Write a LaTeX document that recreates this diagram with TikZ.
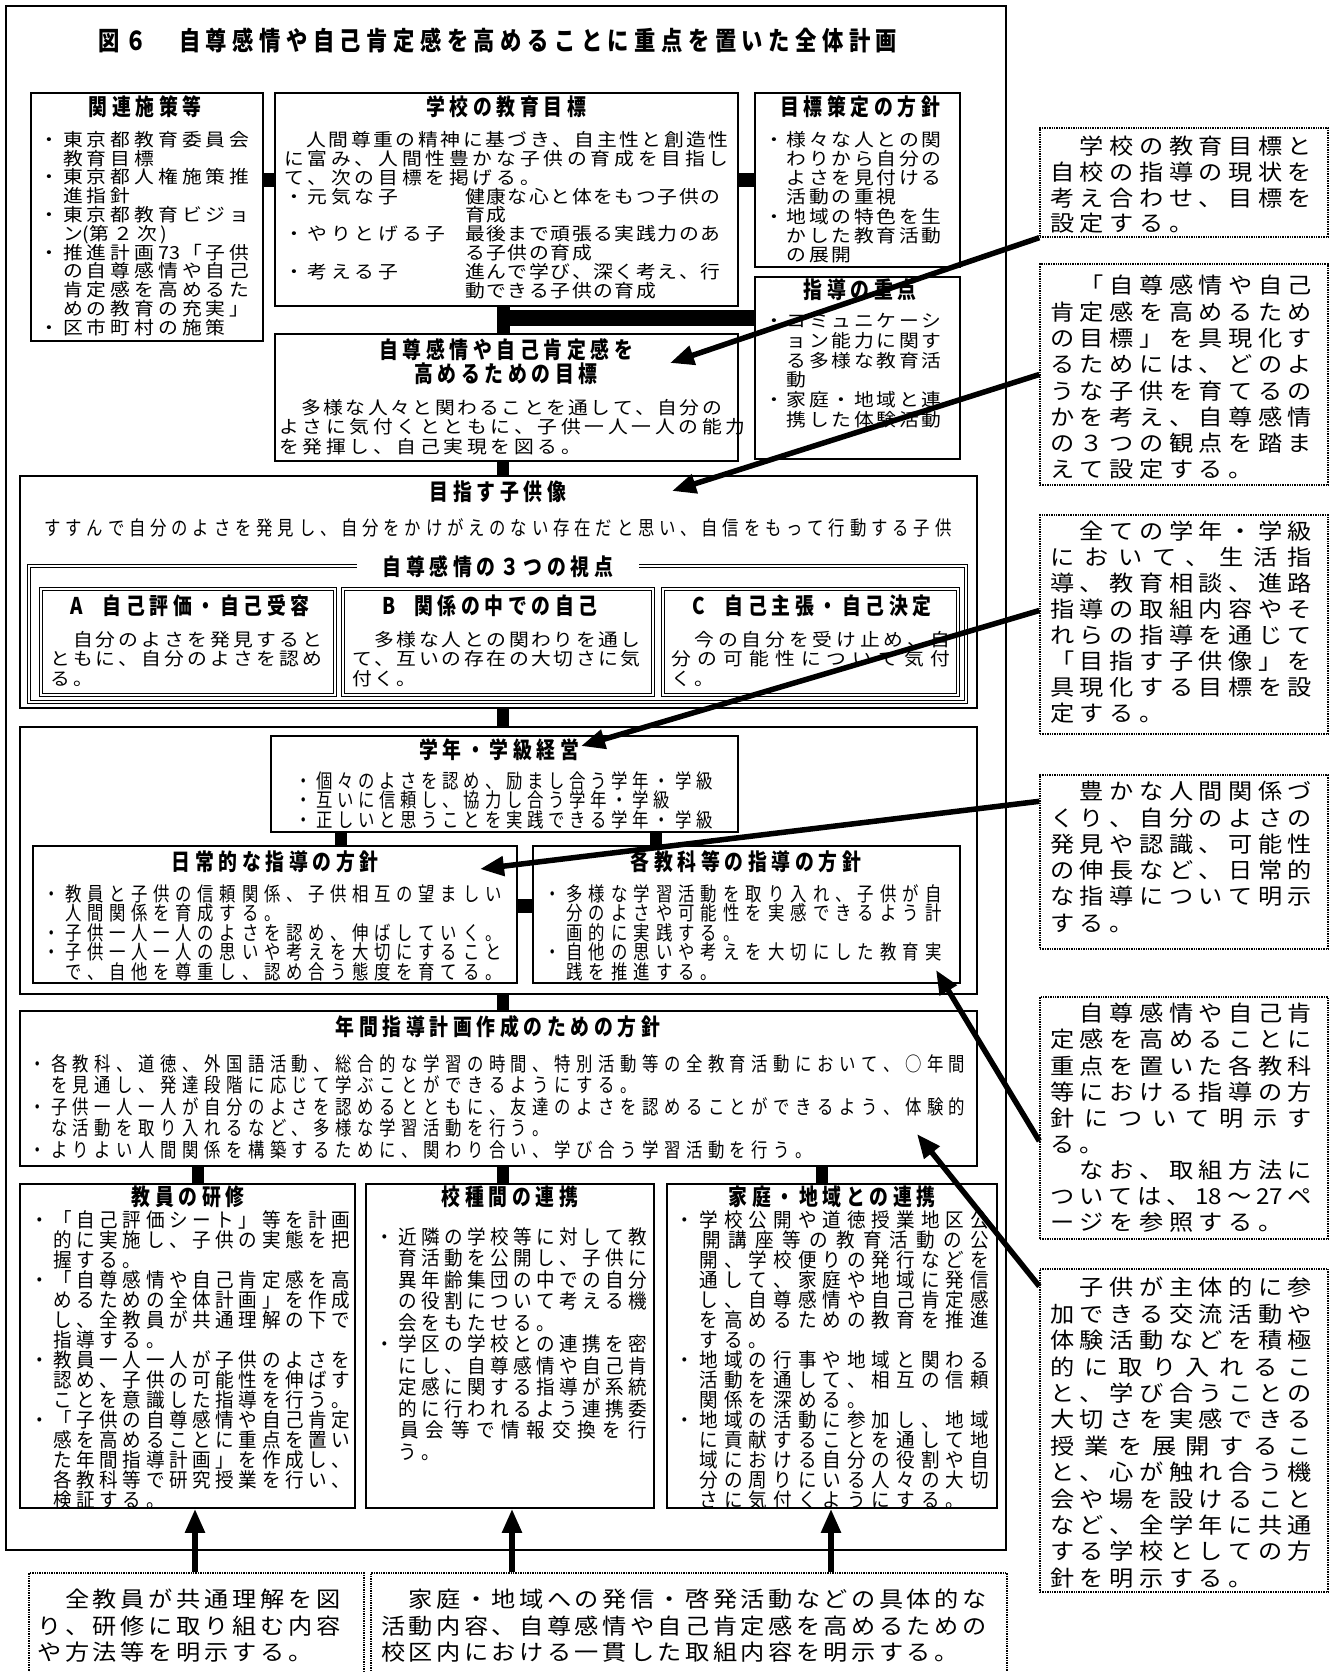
\documentclass[tikz,border=0pt]{standalone}
\usepackage{fontspec}
\setmainfont{Noto Sans CJK JP}
\newfontfamily\fM{Noto Sans CJK JP}[FakeStretch=1.1]
\newfontfamily\fG{Noto Sans CJK JP}[FakeStretch=0.82]
\newfontfamily\fGw{Noto Sans CJK JP}[FakeStretch=0.93]
\usetikzlibrary{calc,arrows.meta}
\newlength\adv \newlength\gw
\makeatletter
\def\GL#1{\GL@A#1\relax}
\def\GL@A#1{\ifx\relax#1\kern\dimexpr\gw-\adv\relax\else\makebox[\adv][l]{#1}\expandafter\GL@A\fi}
\def\JL#1#2{\makebox[\dimexpr\adv*#1-\adv+\gw\relax][l]{\JL@A#2\relax}}
\def\JL@A#1{#1\JL@B}
\def\JL@B#1{\ifx\relax#1\else\hfill#1\expandafter\JL@B\fi}
\makeatother
\newcommand\setM[3]{\fontsize{#1}{#2}\fM\setlength\adv{#3}\settowidth\gw{あ}}
\newcommand\setG[3]{\fontsize{#1}{#2}\fG\setlength\adv{#3}\settowidth\gw{あ}}
\newcommand\setW[3]{\fontsize{#1}{#2}\fGw\setlength\adv{#3}\settowidth\gw{あ}}
\newcommand\setH[3]{\fontsize{#1}{#2}\fG\bfseries\setlength\adv{#3}\settowidth\gw{あ}}
\newcommand\bx[6][bx]{\node[#1,minimum width={#4-#2},minimum height={#5-#3}] (#6) at ({(#2+#4)/2},{(#3+#5)/2}) {};}
\begin{document}
\begin{tikzpicture}[x=1pt,y=-1pt,
  bx/.style={draw,line width=1.8pt,inner sep=0pt},
  dbx/.style={draw,double,double distance=1.6pt,line width=0.9pt,inner sep=0pt},
  callbox/.style={draw,densely dotted,line width=1.4pt,inner sep=0pt},
  cbar/.style={line width=14pt},
  arr/.style={line width=5.5pt,-{Triangle[length=24pt,width=19pt]}},
  txt/.style={anchor=north west,inner sep=0pt,align=left},
  hd/.style={anchor=center,inner sep=0pt,align=center},
  hfont/.style={font={\setH{23}{24}{23.5pt}}}
]
\useasboundingbox (0,0) rectangle (1333,1672);
% frames and boxes
\bx{6}{6}{1006}{1550}{frame}
\bx{31}{93}{263}{341}{kanren}
\bx{275}{93}{738}{306}{gakko}
\bx{755}{93}{960}{267}{hoshin}
\bx{755}{277}{960}{459}{juten}
\bx{275}{334}{738}{461}{mokuhyo}
\bx{20}{476}{977}{708}{mezasu}
\bx[dbx]{29}{566}{966}{702}{shiten}
\bx[dbx]{41}{589}{335}{695}{boxA}
\bx[dbx]{343}{589}{653}{695}{boxB}
\bx[dbx]{663}{589}{958}{695}{boxC}
\bx{20}{727}{977}{994}{group}
\bx{271}{736}{738}{832}{gakunen}
\bx{33}{846}{517}{983}{nichijo}
\bx{533}{846}{960}{983}{kakukyo}
\bx{20}{1011}{977}{1166}{nenkan}
\bx{20}{1184}{355}{1508}{kenshu}
\bx{366}{1184}{654}{1508}{koshu}
\bx{667}{1184}{997}{1508}{katei}
\bx[callbox]{1040}{128}{1328}{237}{c1}
\bx[callbox]{1040}{264}{1328}{485}{c2}
\bx[callbox]{1040}{515}{1328}{734}{c3}
\bx[callbox]{1040}{775}{1328}{949}{c4}
\bx[callbox]{1040}{997}{1328}{1239}{c5}
\bx[callbox]{1040}{1269}{1328}{1592}{c6}
\bx[callbox]{29}{1573}{364}{1690}{bc1}
\bx[callbox]{371}{1573}{1007}{1690}{bc2}
% bars
\coordinate (yk) at (0,180);
\coordinate (yj) at (0,318);
\coordinate (yn) at (0,906);
\coordinate (xc) at (503,0);
\coordinate (xg1) at (341,0);
\coordinate (xg2) at (656,0);
\coordinate (xb1) at (198,0);
\coordinate (xb2) at (503,0);
\coordinate (xb3) at (822,0);
\draw[cbar] (kanren.east |- yk) -- (gakko.west |- yk);
\draw[cbar] (gakko.east |- yk) -- (hoshin.west |- yk);
\draw[cbar,line width=13pt] (xc |- gakko.south) -- (xc |- mokuhyo.north);
\draw[cbar,line width=16pt] (xc |- yj) -- (juten.west |- yj);
\draw[cbar,line width=12pt] (xc |- mokuhyo.south) -- (xc |- mezasu.north);
\draw[cbar,line width=12pt] (xc |- mezasu.south) -- (xc |- group.north);
\draw[cbar,line width=12pt] (xc |- group.south) -- (xc |- nenkan.north);
\draw[cbar,line width=12pt] (xg1 |- gakunen.south) -- (xg1 |- nichijo.north);
\draw[cbar,line width=12pt] (xg2 |- gakunen.south) -- (xg2 |- kakukyo.north);
\draw[cbar] (nichijo.east |- yn) -- (kakukyo.west |- yn);
\draw[cbar,line width=12pt] (xb1 |- nenkan.south) -- (xb1 |- kenshu.north);
\draw[cbar,line width=12pt] (xb2 |- nenkan.south) -- (xb2 |- koshu.north);
\draw[cbar,line width=12pt] (xb3 |- nenkan.south) -- (xb3 |- katei.north);
% title
\node[hd,font={\setH{26}{28}{26.8pt}}] (title) at (498,41) {\GL{図６　自尊感情や自己肯定感を高めることに重点を置いた全体計画}};
% headings
\node[hd,hfont] (kanrenH) at (145,107) {\GL{関連施策等}};
\node[hd,hfont] (gakkoH) at (506,107) {\GL{学校の教育目標}};
\node[hd,hfont] (hoshinH) at (860,107) {\GL{目標策定の方針}};
\node[hd,hfont] (jutenH) at (860,290) {\GL{指導の重点}};
\node[hd,hfont] (mokuhyoH) at (506,362) {\GL{自尊感情や自己肯定感を}\\\GL{高めるための目標}};
\node[hd,hfont] (mezasuH) at (498,492) {\GL{目指す子供像}};
\node[hd,font={\setG{20}{22}{21.2pt}}] (mezasuS) at (498,528) {\GL{すすんで自分のよさを発見し、自分をかけがえのない存在だと思い、自信をもって行動する子供}};
\node[hd,hfont,fill=white,inner xsep=26pt,inner ysep=4pt] (shitenH) at (498,567) {\GL{自尊感情の３つの視点}};
\node[hd,hfont] (boxAH) at (190,606) {\makebox[32pt][l]{A}\GL{自己評価・自己受容}};
\node[hd,hfont] (boxBH) at (490,606) {\makebox[32pt][l]{B}\GL{関係の中での自己}};
\node[hd,hfont] (boxCH) at (812,606) {\makebox[32pt][l]{C}\GL{自己主張・自己決定}};
\node[hd,hfont] (gakunenH) at (499,750) {\GL{学年・学級経営}};
\node[hd,hfont] (nichijoH) at (275,862) {\GL{日常的な指導の方針}};
\node[hd,hfont] (kakukyoH) at (746,862) {\GL{各教科等の指導の方針}};
\node[hd,hfont] (nenkanH) at (498,1027) {\GL{年間指導計画作成のための方針}};
\node[hd,hfont] (kenshuH) at (188,1197) {\GL{教員の研修}};
\node[hd,hfont] (koshuH) at (510,1197) {\GL{校種間の連携}};
\node[hd,hfont] (kateiH) at (832,1197) {\GL{家庭・地域との連携}};
% body texts
\node[txt,font={\setM{18}{18.8}{23.8pt}}] (kanrenT) at (39,131) {%
\GL{・東京都教育委員会}\\
\GL{　教育目標}\\
\GL{・東京都人権施策推}\\
\GL{　進指針}\\
\GL{・東京都教育ビジョ}\\
\GL{　ン}(\GL{第２次)}\\
\GL{・推進計画{73}「子供}\\
\GL{　の自尊感情や自己}\\
\GL{　肯定感を高めるた}\\
\GL{　めの教育の充実」}\\
\GL{・区市町村の施策}};
\node[txt,font={\setM{18}{18.9}{23.6pt}}] (gakkoT) at (284,131) {%
\JL{19}{　人間尊重の精神に基づき、自主性と創造性}\\
\GL{に富み、人間性豊かな子供の育成を目指し}\\
\GL{て、次の目標を掲げる。}};
\node[txt,font={\setM{18}{18.9}{23.6pt}}] (gakkoL) at (284,187.7) {%
\GL{・元気な子}\\ \mbox{}\\
\GL{・やりとげる子}\\ \mbox{}\\
\GL{・考える子}};
\node[txt,font={\setM{18}{18.9}{21.4pt}}] (gakkoR) at (465,187.7) {%
\GL{健康な心と体をもつ子供の}\\
\GL{育成}\\
\GL{最後まで頑張る実践力のあ}\\
\GL{る子供の育成}\\
\GL{進んで学び、深く考え、行}\\
\GL{動できる子供の育成}};
\node[txt,font={\setM{18}{19.2}{22.5pt}}] (hoshinT) at (764,131) {%
\GL{・様々な人との関}\\
\GL{　わりから自分の}\\
\GL{　よさを見付ける}\\
\GL{　活動の重視}\\
\GL{・地域の特色を生}\\
\GL{　かした教育活動}\\
\GL{　の展開}};
\node[txt,font={\setM{18}{19.8}{22.5pt}}] (jutenT) at (764,313) {%
\GL{・コミュニケーシ}\\
\GL{　ョン能力に関す}\\
\GL{　る多様な教育活}\\
\GL{　動}\\
\GL{・家庭・地域と連}\\
\GL{　携した体験活動}};
\node[txt,font={\setM{18}{19.5}{23.5pt}}] (mokuhyoT) at (279,399) {%
\JL{19}{　多様な人々と関わることを通して、自分の}\\
\GL{よさに気付くとともに、子供一人一人の能力}\\
\GL{を発揮し、自己実現を図る。}};
\node[txt,font={\setM{18}{19.6}{22.9pt}}] (boxAT) at (50,631) {%
\GL{　自分のよさを発見すると}\\
\GL{ともに、自分のよさを認め}\\
\GL{る。}};
\node[txt,font={\setM{18}{19.6}{22.4pt}}] (boxBT) at (352,631) {%
\GL{　多様な人との関わりを通し}\\
\GL{て、互いの存在の大切さに気}\\
\GL{付く。}};
\node[txt,font={\setM{18}{19.6}{23.6pt}}] (boxCT) at (671,631) {%
\GL{　今の自分を受け止め、自}\\
\JL{12}{分の可能性について気付}\\
\GL{く。}};
\node[txt,font={\setG{20}{18.4}{21.1pt}}] (gakunenT) at (295,771) {%
\GL{・個々のよさを認め、励まし合う学年・学級}\\
\GL{・互いに信頼し、協力し合う学年・学級}\\
\GL{・正しいと思うことを実践できる学年・学級}};
\node[txt,font={\setG{20}{19.6}{22.1pt}}] (nichijoT) at (43,884) {%
\GL{・教員と子供の信頼関係、子供相互の望ましい}\\
\GL{　人間関係を育成する。}\\
\GL{・子供一人一人のよさを認め、伸ばしていく。}\\
\GL{・子供一人一人の思いや考えを大切にすること}\\
\GL{　で、自他を尊重し、認め合う態度を育てる。}};
\node[txt,font={\setG{20}{19.6}{22.4pt}}] (kakukyoT) at (544,884) {%
\GL{・多様な学習活動を取り入れ、子供が自}\\
\GL{　分のよさや可能性を実感できるよう計}\\
\GL{　画的に実践する。}\\
\GL{・自他の思いや考えを大切にした教育実}\\
\GL{　践を推進する。}};
\node[txt,font={\setG{20}{21.5}{21.9pt}}] (nenkanT) at (29,1054) {%
\GL{・各教科、道徳、外国語活動、総合的な学習の時間、特別活動等の全教育活動において、○年間}\\
\GL{　を見通し、発達段階に応じて学ぶことができるようにする。}\\
\GL{・子供一人一人が自分のよさを認めるとともに、友達のよさを認めることができるよう、体験的}\\
\GL{　な活動を取り入れるなど、多様な学習活動を行う。}\\
\GL{・よりよい人間関係を構築するために、関わり合い、学び合う学習活動を行う。}};
\node[txt,font={\setW{20}{20}{23.2pt}}] (kenshuT) at (30,1210) {%
\GL{・「自己評価シート」等を計画}\\
\GL{　的に実施し、子供の実態を把}\\
\GL{　握する。}\\
\GL{・「自尊感情や自己肯定感を高}\\
\GL{　めるための全体計画」を作成}\\
\GL{　し、全教員が共通理解の下で}\\
\GL{　指導する。}\\
\GL{・教員一人一人が子供のよさを}\\
\GL{　認め、子供の可能性を伸ばす}\\
\GL{　ことを意識した指導を行う。}\\
\GL{・「子供の自尊感情や自己肯定}\\
\GL{　感を高めることに重点を置い}\\
\GL{　た年間指導計画」を作成し、}\\
\GL{　各教科等で研究授業を行い、}\\
\GL{　検証する。}};
\node[txt,font={\setW{20}{21.5}{23pt}}] (koshuT) at (375,1227) {%
\GL{・近隣の学校等に対して教}\\
\GL{　育活動を公開し、子供に}\\
\GL{　異年齢集団の中での自分}\\
\GL{　の役割について考える機}\\
\GL{　会をもたせる。}\\
\GL{・学区の学校との連携を密}\\
\GL{　にし、自尊感情や自己肯}\\
\GL{　定感に関する指導が系統}\\
\GL{　的に行われるよう連携委}\\
\JL{12}{　員会等で情報交換を行}\\
\GL{　う。}};
\node[txt,font={\setW{20}{20}{24.6pt}}] (kateiT) at (675,1210) {%
\GL{・学校公開や道徳授業地区公}\\
\JL{13}{　開講座等の教育活動の公}\\
\GL{　開、学校便りの発行などを}\\
\GL{　通して、家庭や地域に発信}\\
\GL{　し、自尊感情や自己肯定感}\\
\GL{　を高めるための教育を推進}\\
\GL{　する。}\\
\GL{・地域の行事や地域と関わる}\\
\GL{　活動を通して、相互の信頼}\\
\GL{　関係を深める。}\\
\GL{・地域の活動に参加し、地域}\\
\GL{　に貢献することを通して地}\\
\GL{　域における自分の役割や自}\\
\GL{　分の周りにいる人々の大切}\\
\GL{　さに気付くようにする。}};
% callout texts
\node[txt,font={\setM{22}{25.7}{29.7pt}}] (c1T) at (1050,136) {%
\GL{　学校の教育目標と}\\
\GL{自校の指導の現状を}\\
\GL{考え合わせ、目標を}\\
\GL{設定する。}};
\node[txt,font={\setM{22}{26.3}{29.7pt}}] (c2T) at (1050,275) {%
\GL{　「自尊感情や自己}\\
\GL{肯定感を高めるため}\\
\GL{の目標」を具現化す}\\
\GL{るためには、どのよ}\\
\GL{うな子供を育てるの}\\
\GL{かを考え、自尊感情}\\
\GL{の３つの観点を踏ま}\\
\GL{えて設定する。}};
\node[txt,font={\setM{22}{26}{29.7pt}}] (c3T) at (1050,521) {%
\GL{　全ての学年・学級}\\
\JL{9}{において、生活指}\\
\GL{導、教育相談、進路}\\
\GL{指導の取組内容やそ}\\
\GL{れらの指導を通じて}\\
\GL{「目指す子供像」を}\\
\GL{具現化する目標を設}\\
\GL{定する。}};
\node[txt,font={\setM{22}{26.3}{29.7pt}}] (c4T) at (1050,781) {%
\GL{　豊かな人間関係づ}\\
\GL{くり、自分のよさの}\\
\GL{発見や認識、可能性}\\
\GL{の伸長など、日常的}\\
\GL{な指導について明示}\\
\GL{する。}};
\node[txt,font={\setM{22}{26.1}{29.7pt}}] (c5T) at (1050,1003) {%
\GL{　自尊感情や自己肯}\\
\GL{定感を高めることに}\\
\GL{重点を置いた各教科}\\
\GL{等における指導の方}\\
\JL{9}{針について明示す}\\
\GL{る。}\\
\GL{　なお、取組方法に}\\
\JL{9}{ついては、{18}～{27}ペ}\\
\GL{ージを参照する。}};
\node[txt,font={\setM{22}{26.4}{29.7pt}}] (c6T) at (1050,1277) {%
\GL{　子供が主体的に参}\\
\GL{加できる交流活動や}\\
\GL{体験活動などを積極}\\
\JL{9}{的に取り入れるこ}\\
\GL{と、学び合うことの}\\
\GL{大切さを実感できる}\\
\JL{9}{授業を展開するこ}\\
\GL{と、心が触れ合う機}\\
\GL{会や場を設けること}\\
\GL{など、全学年に共通}\\
\GL{する学校としての方}\\
\GL{針を明示する。}};
\node[txt,font={\setM{22}{26.5}{27.9pt}}] (bc1T) at (37,1589) {%
\GL{　全教員が共通理解を図}\\
\GL{り、研修に取り組む内容}\\
\GL{や方法等を明示する。}};
\node[txt,font={\setM{22}{26.5}{27.66pt}}] (bc2T) at (381,1589) {%
\GL{　家庭・地域への発信・啓発活動などの具体的な}\\
\GL{活動内容、自尊感情や自己肯定感を高めるための}\\
\GL{校区内における一貫した取組内容を明示する。}};
% arrows
\coordinate (t1) at (670,363);
\coordinate (t2) at (672,491);
\coordinate (t3) at (581,746);
\coordinate (t4) at (480,869);
\coordinate (t5) at (936,970);
\coordinate (t6) at (917,1134);
\draw[arr] (c1.south west) -- (t1);
\draw[arr] (c2.west) -- (t2);
\draw[arr] ($(c3.west)+(0,-14)$) -- (t3);
\draw[arr] ($(c4.north west)+(0,27)$) -- (t4);
\draw[arr] ($(c5.west)+(0,23)$) -- (t5);
\draw[arr] ($(c6.north west)+(0,18)$) -- (t6);
\coordinate (k1) at (195,0);
\coordinate (k2) at (512,0);
\coordinate (k3) at (831,0);
\draw[arr] (k1 |- bc1.north) -- (k1 |- kenshu.south);
\draw[arr] (k2 |- bc2.north) -- (k2 |- koshu.south);
\draw[arr] (k3 |- bc2.north) -- (k3 |- katei.south);
\end{tikzpicture}
\end{document}
